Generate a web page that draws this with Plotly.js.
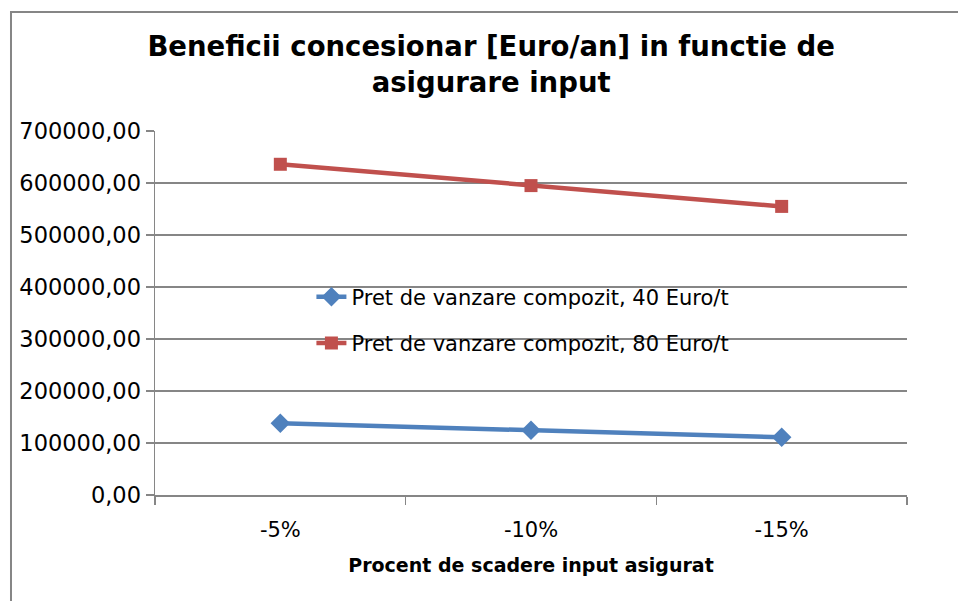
<!DOCTYPE html>
<html>
<head>
<meta charset="utf-8">
<script src="https://cdn.plot.ly/plotly-3.0.1.min.js"></script>
<style>
html,body{margin:0;padding:0;background:#fff;}
#chart{width:958px;height:601px;}
</style>
</head>
<body>
<div id="chart"></div>
<script>
// Data
const categories = ["-5%", "-10%", "-15%"];
const seriesNames = ["Pret de vanzare compozit, 40 Euro/t", "Pret de vanzare compozit, 80 Euro/t"];
const values40 = [138000, 124500, 111000];
const values80 = [636000, 595000, 555000];

const chartTitle = "Beneficii concesionar [Euro/an] in functie de<br>asigurare input";
const xTitle = "Procent de scadere input asigurat";

const FONT = "DejaVu Sans, sans-serif";

const traces = [
  {
    x: categories, y: values40, name: seriesNames[0], type: "scatter", mode: "lines+markers",
    line: {color: "#4F81BD", width: 4.5},
    marker: {symbol: "diamond", size: 15, color: "#4F81BD"},
    legendgroup: "a"
  },
  {
    x: categories, y: values80, name: seriesNames[1], type: "scatter", mode: "lines+markers",
    line: {color: "#C0504D", width: 4.5},
    marker: {symbol: "square", size: 13, color: "#C0504D"},
    legendgroup: "b"
  }
];

const layout = {
  width: 958, height: 601,
  margin: {l: 155, r: 51, t: 131, b: 106},
  paper_bgcolor: "#ffffff", plot_bgcolor: "#ffffff",
  separators: ", ",
  font: {family: FONT, color: "#000000", size: 21},
  title: {
    text: chartTitle,
    font: {family: FONT, size: 27.5, color: "#000000", weight: "bold"},
    xref: "paper", x: 0.447, xanchor: "center",
    yref: "container", y: 0.906, yanchor: "middle"
  },
  showlegend: true,
  legend: {
    x: 0.208, y: 0.6, xanchor: "left", yanchor: "top",
    bgcolor: "rgba(0,0,0,0)", borderwidth: 0,
    font: {family: FONT, size: 21, color: "#000000"},
    traceorder: "grouped", tracegroupgap: 16
  },
  xaxis: {
    type: "category",
    range: [-0.5, 2.5],
    showgrid: false,
    showline: true, linecolor: "#868686", linewidth: 1.5,
    ticks: "outside", tickson: "boundaries", ticklen: 8, tickcolor: "#868686", tickwidth: 1.5,
    ticklabelstandoff: 15,
    tickfont: {family: FONT, size: 21, color: "#000000"},
    title: {text: xTitle, font: {family: FONT, size: 19, color: "#000000", weight: "bold"}, standoff: 18},
    fixedrange: true
  },
  yaxis: {
    range: [0, 700000],
    dtick: 100000,
    tickformat: ".2f",
    showgrid: true, gridcolor: "#868686", gridwidth: 1.5,
    zeroline: false,
    showline: true, linecolor: "#868686", linewidth: 1.5,
    ticks: "outside", ticklen: 8, tickcolor: "#868686", tickwidth: 1.5,
    tickfont: {family: FONT, size: 22.5, color: "#000000"},
    fixedrange: true
  },
  shapes: [
    {type: "rect", xref: "paper", yref: "paper", x0: -0.1915, x1: 1.3, y0: -0.5, y1: 1.327,
     line: {color: "#868686", width: 2}, fillcolor: "rgba(0,0,0,0)", layer: "below"}
  ]
};

Plotly.newPlot("chart", traces, layout, {displayModeBar: false, staticPlot: true});
</script>
</body>
</html>
